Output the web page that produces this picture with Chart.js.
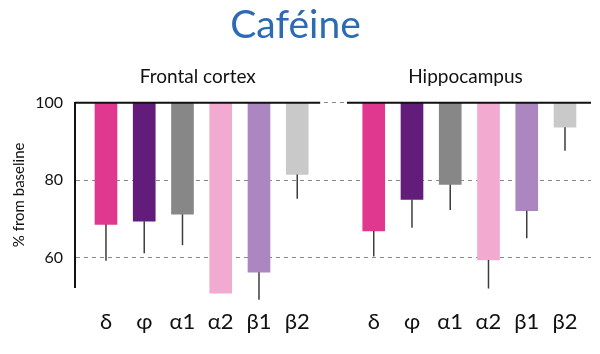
<!DOCTYPE html>
<html>
<head>
<meta charset="utf-8">
<script src="https://cdn.jsdelivr.net/npm/chart.js@4/dist/chart.umd.min.js"></script>
<style>
  html, body { margin: 0; padding: 0; background: #fff; }
  #wrap { width: 600px; height: 354px; position: relative; }
</style>
</head>
<body>
<div id="wrap"><canvas id="caffeineChart"></canvas></div>
<script>
// subunit labels along the bottom, one slot left blank between the two regions
const subunits = ["δ", "φ", "α1", "α2", "β1", "β2"];
const slotLabels = ["δ", "φ", "α1", "α2", "β1", "β2", "", "δ", "φ", "α1", "α2", "β1", "β2"];
const regions = ["Frontal cortex", "Hippocampus"];

// % from baseline (bar end) and lower end of the error whisker
const frontalValues = [68.6, 69.4, 71.2, 50.8, 56.2, 81.5];
const frontalErrLow = [59.2, 61.1, 63.2, null, 49.1, 75.2];
const hippoValues = [66.9, 75.0, 78.9, 59.4, 72.1, 93.7];
const hippoErrLow = [60.3, 67.7, 72.3, 52.0, 65.0, 87.6];

const baseline = 100;
const yTicks = [60, 80, 100];

const subunitColors = ["#e0388f", "#621c79", "#878787", "#f2aad0", "#ab86c0", "#c9c9c9"];

const FONT = "Lato, 'Open Sans', sans-serif";

// x range in slot units (a bit of room before the first and after the last bar)
const X_MIN = -0.81;
const X_MAX = 12.68;

// bars hang from the 100% line
function toBars(values, offset) {
  return values.map((v, i) => ({ x: i + offset, y: [baseline, v] }));
}

const errorBars = {
  id: "errorBars",
  afterDatasetsDraw(chart) {
    const ctx = chart.ctx;
    const yScale = chart.scales.y;
    ctx.save();
    ctx.strokeStyle = "#3c3c3c";
    ctx.lineWidth = 1.5;
    chart.data.datasets.forEach((ds, di) => {
      const meta = chart.getDatasetMeta(di);
      ds.errLow.forEach((lo, i) => {
        if (lo == null) return;
        const bar = meta.data[i];
        ctx.beginPath();
        ctx.moveTo(bar.x, yScale.getPixelForValue(ds.values[i]));
        ctx.lineTo(bar.x, yScale.getPixelForValue(lo));
        ctx.stroke();
      });
    });
    ctx.restore();
  }
};

const regionHeaders = {
  id: "regionHeaders",
  afterDraw(chart) {
    const ctx = chart.ctx;
    const xs = chart.scales.x;
    const ys = chart.scales.y;
    const area = chart.chartArea;
    const y100 = ys.getPixelForValue(baseline);

    // solid baseline over each region (the dashed grid shows through in the gap)
    ctx.save();
    ctx.strokeStyle = "#111";
    ctx.lineWidth = 2;
    ctx.beginPath();
    ctx.moveTo(area.left, y100);
    ctx.lineTo(xs.getPixelForValue(5.6), y100);
    ctx.moveTo(xs.getPixelForValue(6.3), y100);
    ctx.lineTo(area.right, y100);
    ctx.stroke();

    // region names above each group
    ctx.fillStyle = "#111";
    ctx.font = "19px " + FONT;
    ctx.textAlign = "center";
    ctx.textBaseline = "alphabetic";
    ctx.fillText(regions[0], xs.getPixelForValue(2.4), 83);
    ctx.fillText(regions[1], xs.getPixelForValue(9.4), 83);
    ctx.restore();
  }
};

new Chart(document.getElementById("caffeineChart"), {
  type: "bar",
  data: {
    datasets: [
      {
        label: regions[0],
        data: toBars(frontalValues, 0),
        values: frontalValues,
        errLow: frontalErrLow,
        backgroundColor: subunitColors,
        barThickness: 22,
        grouped: false,
        borderSkipped: false,
        clip: false
      },
      {
        label: regions[1],
        data: toBars(hippoValues, 7),
        values: hippoValues,
        errLow: hippoErrLow,
        backgroundColor: subunitColors,
        barThickness: 22,
        grouped: false,
        borderSkipped: false,
        clip: false
      }
    ]
  },
  options: {
    responsive: true,
    maintainAspectRatio: false,
    animation: false,
    layout: { padding: { left: 0, right: 9, top: 0, bottom: 0 } },
    plugins: {
      legend: { display: false },
      tooltip: { enabled: false },
      title: {
        display: true,
        text: "Caféine",
        color: "#2c6bb3",
        font: { family: FONT, size: 39, weight: "normal" },
        padding: { top: 2, bottom: 54 }
      }
    },
    scales: {
      x: {
        type: "linear",
        offset: false,
        min: X_MIN,
        max: X_MAX,
        afterBuildTicks: (scale) => {
          scale.ticks = slotLabels.map((_, i) => ({ value: i }));
          scale.min = X_MIN;
          scale.max = X_MAX;
        },
        grid: { display: false, drawTicks: false },
        border: { display: false },
        ticks: {
          autoSkip: false,
          maxRotation: 0,
          padding: 22,
          color: "#111",
          font: { family: FONT, size: 22 },
          callback: (v) => slotLabels[v] || ""
        },
        afterFit: (scale) => {
          scale.height = 67;
          scale.paddingLeft = 0;
          scale.paddingRight = 0;
        }
      },
      y: {
        min: 52.4,
        max: 100,
        afterBuildTicks: (scale) => {
          scale.ticks = yTicks.map((v) => ({ value: v }));
        },
        grid: {
          color: "#8a8a8a",
          lineWidth: 1,
          drawTicks: false
        },
        border: { display: true, color: "#111", width: 2, dash: [4, 4] },
        ticks: {
          padding: 12,
          color: "#111",
          font: { family: FONT, size: 16 }
        },
        title: {
          display: true,
          text: "% from baseline",
          color: "#111",
          font: { family: FONT, size: 15 },
          padding: { top: 10, bottom: 0 }
        },
        afterFit: (scale) => { scale.width = 75; }
      }
    }
  },
  plugins: [errorBars, regionHeaders]
});
</script>
</body>
</html>
